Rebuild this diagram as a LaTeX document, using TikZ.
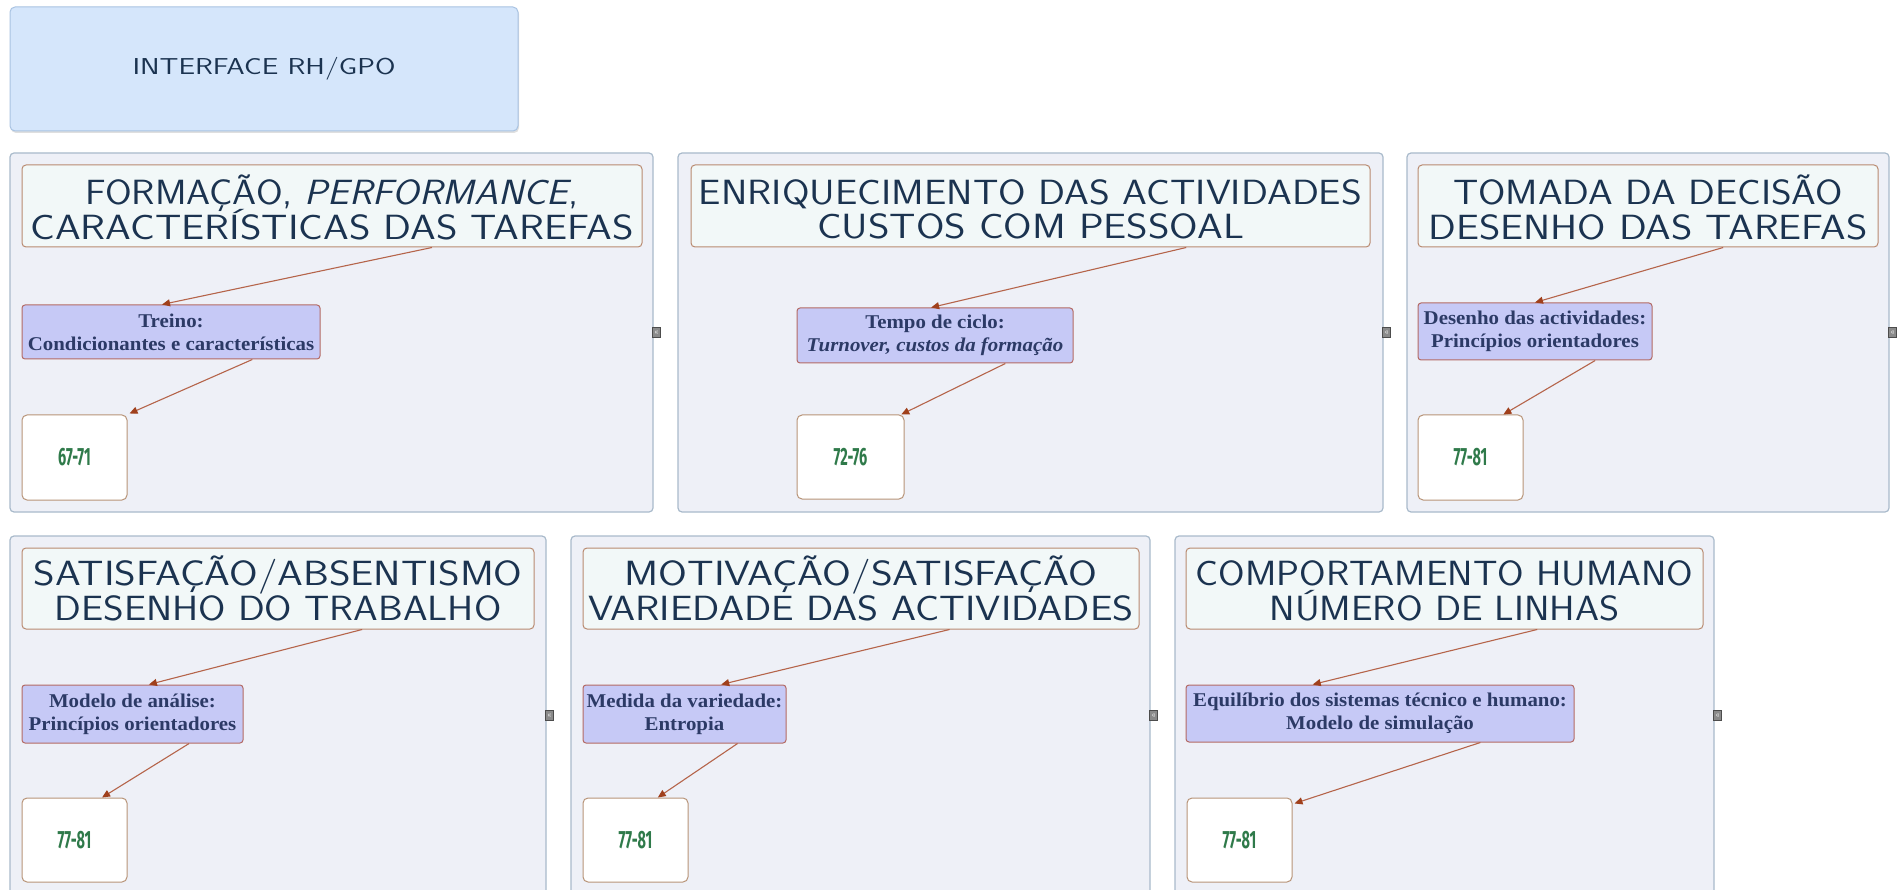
\documentclass[tikz,border=0pt]{standalone}
\usepackage{fontspec}
\usepackage{graphicx}
\usetikzlibrary{calc,arrows.meta,shadows}

\newfontfamily\boxfont{Liberation Serif}[FakeStretch=1.07]
\newfontfamily\numfont{Fira Sans}[FakeStretch=0.58]

\definecolor{panelfill}{HTML}{EEF0F7}
\definecolor{paneldraw}{HTML}{A9BACB}
\definecolor{headfill}{HTML}{F2F8F8}
\definecolor{headdraw}{HTML}{B98A70}
\definecolor{headtext}{HTML}{1B3350}
\definecolor{midfill}{HTML}{C6C9F6}
\definecolor{middraw}{HTML}{B46A64}
\definecolor{midtext}{HTML}{2C3A66}
\definecolor{numdraw}{HTML}{B89478}
\definecolor{numtext}{HTML}{2F7A4A}
\definecolor{conncol}{HTML}{B5644A}
\definecolor{tipcol}{HTML}{A0401C}
\definecolor{topfill}{HTML}{D5E6FB}
\definecolor{topdraw}{HTML}{A9C3E2}
\definecolor{iconfill}{HTML}{8A8A8A}

% box node given by its corners (x1,y1) (x2,y2)
\newcommand\boxnode[7]{%
  \pgfmathsetmacro\bxw{#5-#3}\pgfmathsetmacro\bxh{#6-#4}%
  \pgfmathsetmacro\bxc{(#3+#5)/2}\pgfmathsetmacro\byc{(#4+#6)/2}%
  \node[#2, minimum width=\bxw pt, minimum height=\bxh pt] (#1) at (\bxc,\byc) {#7};}
% a heading line stretched to a given width
\newcommand\fitto[2]{\resizebox{#1pt}{\height}{#2}}

\tikzset{
  panel/.style={draw=paneldraw, fill=panelfill, line width=1.2pt, rounded corners=4pt, inner sep=0pt},
  topbox/.style={draw=topdraw, fill=topfill, line width=1pt, rounded corners=5pt, inner sep=0pt,
    text=headtext, font=\sffamily\fontsize{23}{23}\selectfont,
    drop shadow={shadow xshift=1pt, shadow yshift=-2pt, opacity=0.25}},
  headbox/.style={draw=headdraw, fill=headfill, line width=1pt, rounded corners=4pt, inner sep=0pt},
  headline/.style={text=headtext, font=\sffamily\fontsize{35}{35}\selectfont, inner sep=0pt, anchor=base},
  midbox/.style={draw=middraw, fill=midfill, line width=1pt, rounded corners=3pt, inner sep=0pt,
    align=center, text=midtext, font=\boxfont\bfseries\fontsize{19.5}{23}\selectfont},
  numbox/.style={draw=numdraw, fill=white, line width=1pt, rounded corners=5pt, inner sep=0pt,
    text=numtext, font=\numfont\bfseries\fontsize{25}{25}\selectfont},
  conn/.style={draw=conncol, line width=1.1pt, -{Triangle[length=8pt,width=7pt,color=tipcol]}},
  icon/.style={fill=iconfill, draw=gray!60!black, line width=0.5pt, minimum width=8pt,
    minimum height=10pt, inner sep=0pt, text=white, font=\fontsize{8}{8}\selectfont},
}

\begin{document}
\begin{tikzpicture}[x=1pt, y=-1pt]
\useasboundingbox (0,0) rectangle (1899,890);
\clip (0,0) rectangle (1899,890);
\fill[white] (0,0) rectangle (1899,890);

% title
\boxnode{title}{topbox}{10}{7}{518}{131}{\fitto{263}{INTERFACE RH/GPO}}

% panels
\boxnode{p1}{panel}{10}{153}{653}{512}{}
\boxnode{p2}{panel}{678}{153}{1383}{512}{}
\boxnode{p3}{panel}{1407}{153}{1889}{512}{}
\boxnode{p4}{panel}{10}{536}{546}{895}{}
\boxnode{p5}{panel}{571}{536}{1150}{895}{}
\boxnode{p6}{panel}{1175}{536}{1714}{895}{}

% collapse markers
\node[icon] (i1) at ($(p1.east)+(3,0)$) {«};
\node[icon] (i2) at ($(p2.east)+(3,0)$) {«};
\node[icon] (i3) at ($(p3.east)+(3,0)$) {«};
\node[icon] (i4) at ($(p4.east)+(3,0)$) {«};
\node[icon] (i5) at ($(p5.east)+(3,0)$) {«};
\node[icon] (i6) at ($(p6.east)+(3,0)$) {«};

% headings
\boxnode{h1}{headbox}{22}{165}{642}{247}{}
\node[headline] (h1a) at ($(h1.north)+(0,40)$) {\fitto{493}{FORMAÇÃO, \textit{PERFORMANCE},}};
\node[headline] (h1b) at ($(h1.north)+(0,75)$) {\fitto{603}{CARACTERÍSTICAS DAS TAREFAS}};

\boxnode{h2}{headbox}{691}{165}{1370}{247}{}
\node[headline] (h2a) at ($(h2.north)+(0,40)$) {\fitto{663}{ENRIQUECIMENTO DAS ACTIVIDADES}};
\node[headline] (h2b) at ($(h2.north)+(0,74)$) {\fitto{427}{CUSTOS COM PESSOAL}};

\boxnode{h3}{headbox}{1418}{165}{1878}{247}{}
\node[headline] (h3a) at ($(h3.north)+(0,40)$) {\fitto{390}{TOMADA DA DECISÃO}};
\node[headline] (h3b) at ($(h3.north)+(0,75)$) {\fitto{439}{DESENHO DAS TAREFAS}};

\boxnode{h4}{headbox}{22}{548}{534}{629}{}
\node[headline] (h4a) at ($(h4.north)+(0,38)$) {\fitto{489}{SATISFAÇÃO/ABSENTISMO}};
\node[headline] (h4b) at ($(h4.north)+(0,73)$) {\fitto{447}{DESENHO DO TRABALHO}};

\boxnode{h5}{headbox}{583}{548}{1139}{629}{}
\node[headline] (h5a) at ($(h5.north)+(0,38)$) {\fitto{473}{MOTIVAÇÃO/SATISFAÇÃO}};
\node[headline] (h5b) at ($(h5.north)+(0,73)$) {\fitto{545}{VARIEDADE DAS ACTIVIDADES}};

\boxnode{h6}{headbox}{1186}{548}{1703}{629}{}
\node[headline] (h6a) at ($(h6.north)+(0,38)$) {\fitto{498}{COMPORTAMENTO HUMANO}};
\node[headline] (h6b) at ($(h6.north)+(0,73)$) {\fitto{350}{NÚMERO DE LINHAS}};

% middle boxes
\boxnode{m1}{midbox}{22}{305}{320}{359}{Treino:\\Condicionantes e características}
\boxnode{m2}{midbox}{797}{308}{1073}{363}{Tempo de ciclo:\\\textit{Turnover, custos da formação}}
\boxnode{m3}{midbox}{1418}{303}{1652}{360}{Desenho das actividades:\\Princípios orientadores}
\boxnode{m4}{midbox}{22}{685}{243}{743}{Modelo de análise:\\Princípios orientadores}
\boxnode{m5}{midbox}{583}{685}{786}{743}{Medida da variedade:\\Entropia}
\boxnode{m6}{midbox}{1186}{685}{1574}{742}{Equilíbrio dos sistemas técnico e humano:\\Modelo de simulação}

% page boxes
\boxnode{n1}{numbox}{22}{415}{127}{500}{67-71}
\boxnode{n2}{numbox}{797}{415}{904}{499}{72-76}
\boxnode{n3}{numbox}{1418}{415}{1523}{500}{77-81}
\boxnode{n4}{numbox}{22}{798}{127}{882}{77-81}
\boxnode{n5}{numbox}{583}{798}{688}{882}{77-81}
\boxnode{n6}{numbox}{1187}{798}{1292}{882}{77-81}

% connectors
\draw[conn] ($(h1.south west)!0.661!(h1.south east)$) -- ($(m1.north west)!0.47!(m1.north east)$);
\draw[conn] ($(m1.south west)!0.772!(m1.south east)$) -- ($(n1.north east)+(2,-1)$);
\draw[conn] ($(h2.south west)!0.729!(h2.south east)$) -- ($(m2.north west)!0.486!(m2.north east)$);
\draw[conn] ($(m2.south west)!0.754!(m2.south east)$) -- ($(n2.north west)!0.97!(n2.north east)$);
\draw[conn] ($(h3.south west)!0.663!(h3.south east)$) -- ($(m3.north west)!0.5!(m3.north east)$);
\draw[conn] ($(m3.south west)!0.756!(m3.south east)$) -- ($(n3.north west)!0.81!(n3.north east)$);
\draw[conn] ($(h4.south west)!0.664!(h4.south east)$) -- ($(m4.north west)!0.574!(m4.north east)$);
\draw[conn] ($(m4.south west)!0.755!(m4.south east)$) -- ($(n4.north west)!0.76!(n4.north east)$);
\draw[conn] ($(h5.south west)!0.659!(h5.south east)$) -- ($(m5.north west)!0.68!(m5.north east)$);
\draw[conn] ($(m5.south west)!0.76!(m5.south east)$) -- ($(n5.north west)!0.71!(n5.north east)$);
\draw[conn] ($(h6.south west)!0.679!(h6.south east)$) -- ($(m6.north west)!0.327!(m6.north east)$);
\draw[conn] ($(m6.south west)!0.758!(m6.south east)$) -- ($(n6.north east)!0.07!(n6.south east)+(2,0)$);
\end{tikzpicture}
\end{document}
